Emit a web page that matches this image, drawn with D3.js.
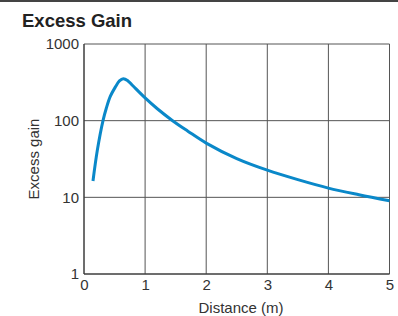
<!DOCTYPE html>
<html>
<head>
<meta charset="utf-8">
<script src="https://cdn.jsdelivr.net/npm/d3@7"></script>
<style>
  body { margin: 0; background: #fff; }
  svg { display: block; font-family: "Liberation Sans", Arial, sans-serif; }
  .grid line { stroke: #555; stroke-width: 1; }
  .axis text { fill: #333; font-size: 15px; font-family: "Liberation Sans", Arial, sans-serif; }
</style>
</head>
<body>
<div id="chart"></div>
<script>
var distance = [0.147, 0.218, 0.311, 0.365, 0.43, 0.512, 0.58, 0.643, 0.72, 0.8, 1.0, 1.2, 1.45, 1.7, 2, 2.5, 3, 3.5, 4, 4.5, 5];
var gain = [16.3, 41, 100, 145, 207, 274, 330, 353, 330, 285, 198, 143, 100, 73, 51, 32, 22.6, 17, 13.2, 10.8, 9.0];
var xTicks = [0, 1, 2, 3, 4, 5];
var yTicks = [1, 10, 100, 1000];

var W = 398, H = 316;
var padl = 84, padt = 44, plotW = 305.5, plotH = 230;

var svg = d3.select('#chart').append('svg').attr('width', W).attr('height', H);

// rule across the top
svg.append('line').attr('x1', 0).attr('x2', W).attr('y1', 1).attr('y2', 1)
  .attr('stroke', '#444').attr('stroke-width', 2);

svg.append('text').attr('x', 22).attr('y', 27)
  .attr('font-size', '18.5px').attr('font-weight', 'bold').attr('fill', '#222')
  .text('Excess Gain');

var vis = svg.append('g').attr('transform', 'translate(' + padl + ',' + padt + ')');

var x = d3.scaleLinear().domain([0, 5]).range([0, plotW]);
var y = d3.scaleLog().domain([1, 1000]).range([plotH, 0]);

var grid = vis.append('g').attr('class', 'grid');
grid.selectAll('line.v').data(xTicks).enter().append('line')
  .attr('x1', function(d) { return x(d); }).attr('x2', function(d) { return x(d); })
  .attr('y1', 0).attr('y2', plotH);
grid.selectAll('line.h').data(yTicks).enter().append('line')
  .attr('y1', function(d) { return y(d); }).attr('y2', function(d) { return y(d); })
  .attr('x1', 0).attr('x2', plotW);

// frame edges darker
vis.append('line').attr('x1', 0).attr('x2', 0).attr('y1', 0).attr('y2', plotH).attr('stroke', '#333');
vis.append('line').attr('x1', 0).attr('x2', plotW).attr('y1', plotH).attr('y2', plotH).attr('stroke', '#333');

var xAxis = d3.axisBottom(x).tickValues(xTicks).tickSize(0).tickPadding(5).tickFormat(d3.format('d'));
vis.append('g').attr('class', 'x axis').attr('transform', 'translate(0,' + plotH + ')').call(xAxis)
  .call(function(g) { g.select('.domain').remove(); });

var yAxis = d3.axisLeft(y).tickValues(yTicks).tickSize(0).tickPadding(5).tickFormat(d3.format('d'));
vis.append('g').attr('class', 'y axis').call(yAxis)
  .call(function(g) { g.select('.domain').remove(); });
vis.selectAll('.axis').attr('font-size', null).attr('font-family', null);

var line = d3.line()
  .x(function(d, i) { return x(distance[i]); })
  .y(function(d) { return y(d); })
  .curve(d3.curveCatmullRom.alpha(0.5));

vis.append('path').datum(gain).attr('d', line)
  .attr('fill', 'none').attr('stroke', '#0a88c9').attr('stroke-width', 3)
  .attr('stroke-linecap', 'butt').attr('stroke-linejoin', 'round');

svg.append('text').attr('x', 241).attr('y', 313)
  .attr('text-anchor', 'middle').attr('font-size', '15px').attr('fill', '#333')
  .text('Distance (m)');

svg.append('text').attr('transform', 'translate(39,' + 159 + ') rotate(-90)')
  .attr('text-anchor', 'middle').attr('font-size', '15px').attr('fill', '#333')
  .text('Excess gain');
</script>
</body>
</html>
